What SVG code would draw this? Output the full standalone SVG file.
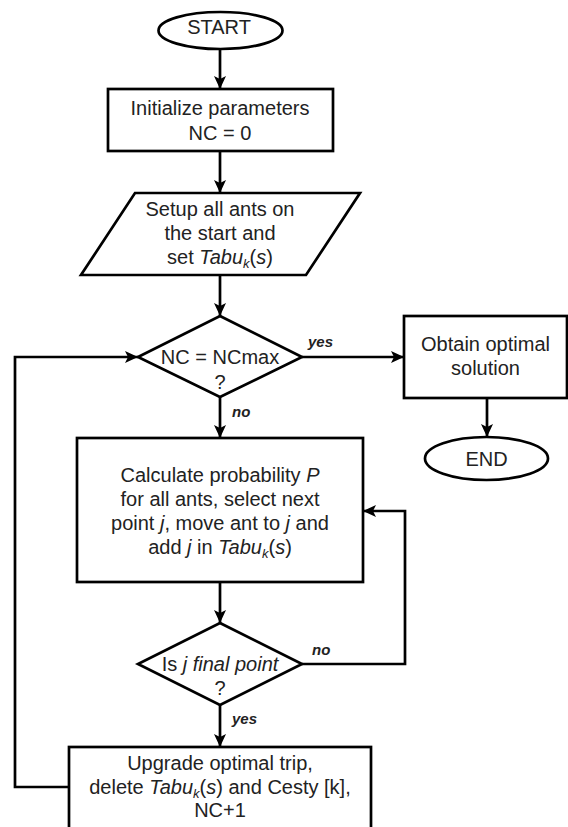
<svg xmlns="http://www.w3.org/2000/svg" width="568" height="827" viewBox="0 0 568 827">
<defs>
<marker id="arr" markerWidth="14" markerHeight="12" refX="13" refY="6" orient="auto" markerUnits="userSpaceOnUse">
<path d="M0,0 L13,6 L0,12 L3,6 z" fill="#000"/>
</marker>
<style>
.shape{fill:#fff;stroke:#000;stroke-width:2.7}
.line{fill:none;stroke:#000;stroke-width:2.7;marker-end:url(#arr)}
.plain{fill:none;stroke:#000;stroke-width:2.7}
text{font-family:"Liberation Sans",Arial,sans-serif;font-size:20px;fill:#222;text-anchor:middle}
.lbl{font-size:15px;font-weight:bold;font-style:italic;text-anchor:start}
.i{font-style:italic}
.sub{font-size:13px;font-style:italic}
</style>
</defs>
<rect width="568" height="827" fill="#fff"/>
<g id="connectors">
<line class="line" x1="220" y1="49" x2="220" y2="89"/>
<line class="line" x1="220" y1="151" x2="220" y2="193"/>
<line class="line" x1="220" y1="275" x2="220" y2="316"/>
<line class="line" x1="302" y1="357" x2="404" y2="357"/>
<line class="line" x1="220" y1="397" x2="220" y2="438"/>
<line class="line" x1="487" y1="398" x2="487" y2="437"/>
<line class="line" x1="220" y1="582" x2="220" y2="623"/>
<line class="line" x1="220" y1="705" x2="220" y2="747"/>
<polyline class="line" points="302,664 405,664 405,511 363,511"/>
<polyline class="line" points="69,787 15,787 15,357 138,357"/>
<text class="lbl" x="308" y="347">yes</text>
<text class="lbl" x="232" y="417">no</text>
<text class="lbl" x="312" y="655">no</text>
<text class="lbl" x="232" y="724">yes</text>
</g>
<g id="start">
<ellipse class="shape" cx="220.5" cy="30.5" rx="62" ry="18.5"/>
<text x="219" y="34">START</text>
</g>
<g id="init">
<rect class="shape" x="108" y="89" width="225" height="62"/>
<text x="220" y="115">Initialize parameters</text>
<text x="220" y="140">NC = 0</text>
</g>
<g id="setup">
<polygon class="shape" points="135,193 360,193 306,275 81,275"/>
<text x="220" y="216">Setup all ants on</text>
<text x="220" y="240">the start and</text>
<text x="220" y="264">set <tspan class="i">Tabu</tspan><tspan class="sub" dy="4">k</tspan><tspan dy="-4">(</tspan><tspan class="i">s</tspan>)</text>
</g>
<g id="check-nc">
<polygon class="shape" points="220,316 302,357 220,397 138,357"/>
<text x="220" y="364">NC = NCmax</text>
<text x="220" y="389">?</text>
</g>
<g id="obtain">
<rect class="shape" x="404" y="316" width="163" height="82"/>
<text x="485.5" y="351">Obtain optimal</text>
<text x="485.5" y="375">solution</text>
</g>
<g id="end">
<ellipse class="shape" cx="486.5" cy="458.5" rx="61.5" ry="21.5"/>
<text x="486.5" y="466">END</text>
</g>
<g id="calculate">
<rect class="shape" x="77" y="438" width="286" height="144"/>
<text x="220" y="482">Calculate probability <tspan class="i">P</tspan></text>
<text x="220" y="506">for all ants, select next</text>
<text x="220" y="530">point <tspan class="i">j</tspan>, move ant to <tspan class="i">j</tspan> and</text>
<text x="220" y="554">add <tspan class="i">j</tspan> in <tspan class="i">Tabu</tspan><tspan class="sub" dy="4">k</tspan><tspan dy="-4">(</tspan><tspan class="i">s</tspan>)</text>
</g>
<g id="check-final">
<polygon class="shape" points="220,623 302,664 220,705 138,664"/>
<text x="220" y="671">Is <tspan class="i">j final point</tspan></text>
<text x="220" y="695">?</text>
</g>
<g id="upgrade">
<rect class="shape" x="69" y="747" width="302" height="95"/>
<text x="220" y="770">Upgrade optimal trip,</text>
<text x="220" y="794">delete <tspan class="i">Tabu</tspan><tspan class="sub" dy="4">k</tspan><tspan dy="-4">(</tspan><tspan class="i">s</tspan>) and Cesty [k],</text>
<text x="220" y="817">NC+1</text>
</g>
</svg>
